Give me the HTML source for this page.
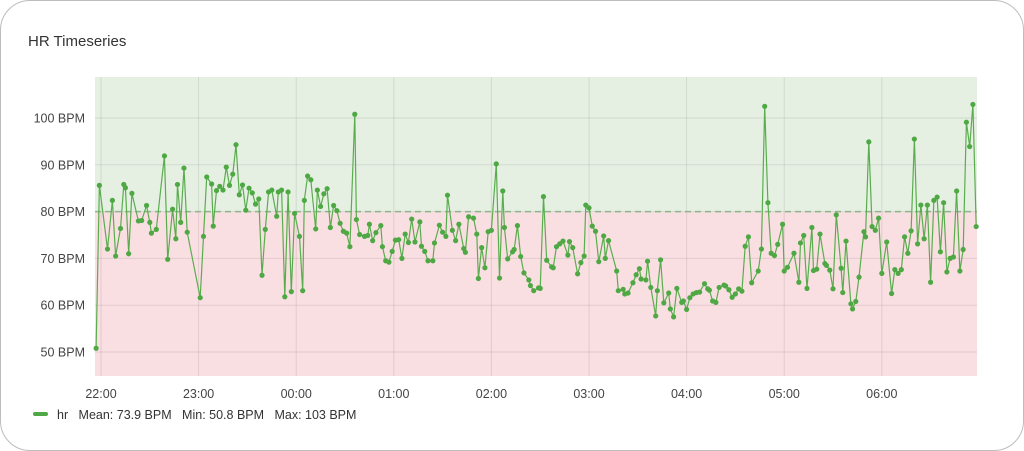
<!DOCTYPE html>
<html><head><meta charset="utf-8">
<style>
html,body{margin:0;padding:0;background:#fff;}
body{width:1024px;height:451px;overflow:hidden;font-family:"Liberation Sans",sans-serif;}
#card{position:absolute;left:0;top:0;width:1022px;height:449px;border:1px solid #bdbdbd;border-radius:30px;box-sizing:content-box;}
#title{position:absolute;left:28px;top:33px;font-size:15px;color:#333;}
svg{position:absolute;left:0;top:0;}
text{font-family:"Liberation Sans",sans-serif;}
</style></head>
<body>
<div id="card"></div>
<div id="title">HR Timeseries</div>
<svg id="chart" width="1024" height="451"></svg>
<script>
// minutes since 22:00
const times=[-3,-1,4,7,9,12,14,15,17,19,23,25,28,30,31,34,39,41,44,46,47,49,51,53,61,63,65,68,69,71,73,75,77,79,81,83,85,87,89,91,
93,95,97,99,101,103,105,108,109,111,113,115,117,119,122,124,125,127,129,132,133,135,137,139,141,143,145,147,149,151,153,156,157,159,162,164,165,167,169,172,173,175,177,179,181,183,185,
187,189,191,193,196,197,199,201,204,205,208,210,212,213,216,218,220,223,224,226,229,231,232,234,236,238,240,243,245,247,248,250,253,254,256,258,260,263,264,266,269,270,272,274,277,278,280,
282,284,287,288,290,293,295,297,298,300,302,304,306,309,310,312,317,318,321,322,324,327,329,331,332,335,336,338,341,342,344,346,349,350,352,354,357,358,360,362,364,366,368,371,373,374,376,
378,380,383,384,386,388,390,392,394,396,398,400,404,406,408,410,412,414,416,419,420,422,426,429,430,432,434,437,438,440,442,445,446,448,450,452,455,456,458,461,462,464,466,469,470,472,474,476,478,480,483,486,488,490,492,494,496,498,500,502,504,506,508,510,512,514,516,518,520,522,524,526,528,530,532,534,536,538];
const hr=[50.8,85.6,72,82.4,70.5,76.4,85.8,85.1,71,83.9,78,78.1,81.3,77.7,75.4,76.2,91.9,69.8,80.5,74.2,85.8,77.7,89.3,75.6,61.6,74.7,87.4,85.9,76.9,84.5,85.4,84.6,89.5,85.6,88,94.3,83.6,85.7,80.3,85,
84,81.6,82.7,66.4,76.2,84.2,84.6,79,84.2,84.6,61.8,84.2,62.9,79.6,74.7,63.1,82.4,87.6,86.8,76.3,84.6,81.1,83.8,84.9,76.6,81.3,80.2,77.5,75.8,75.4,72.5,100.8,78.3,75.1,74.7,74.9,77.3,73.8,75.5,77,72.5,69.5,69.2,71.5,73.9,74,70,
75.2,73.4,78.4,73.5,77.8,72.6,71.5,69.5,69.5,73.3,77.1,75.6,74.7,83.5,76,73.8,77.3,72.1,71.3,78.9,78.6,75.2,65.7,72.3,68,75.7,76,90.2,65.8,84.4,76.6,69.9,71.4,71.9,77,70.4,66.9,65.4,64.2,63.1,63.7,63.6,83.2,69.6,68.2,68,72.5,
73.1,73.7,70.7,73.6,72.3,66.7,69.1,70.5,81.4,80.8,76.9,75.8,69.3,74.8,70,73.8,67.3,63.1,63.4,62.4,62.6,64.8,66.5,67.8,65.6,65.4,69.4,63.8,57.7,63.1,69.7,60.5,62.6,59.2,57.5,63.6,60.6,60.9,59.1,61.6,62.4,62.7,62.8,64.6,63.5,63.2,60.9,
60.6,63.8,64.3,64.1,63.3,61.7,62.4,63.5,63,72.6,74.6,64.8,67.3,72,102.5,81.9,71.1,70.6,73,77.3,67.3,68.1,71.1,64.9,73.3,74.9,63.6,76.6,67.4,67.7,75.2,68.9,68.5,67.5,63.5,79.3,67.9,62.7,73.7,60.3,59.2,60.8,66,75.7,74.6,94.9,76.8,76,78.6,66.8,73.5,62.5,67.6,66.8,67.6,74.6,71.1,75.9,95.5,73.1,81.4,74.2,81.4,64.9,82.4,83.1,71.4,81.9,67.1,70,70.3,84.4,67.3,71.9,99.1,93.9,102.9,76.8];
const yTicks=[50,60,70,80,90,100];
const xTickLabels=["22:00","23:00","00:00","01:00","02:00","03:00","04:00","05:00","06:00"];
const xTickMinutes=[0,60,120,180,240,300,360,420,480];
const threshold=80;

const L=95,R=977,T=77,B=376;
const xs=m=>101+m*1.6267;
const ys=v=>352-(v-50)*4.68;
const svg=document.getElementById('chart');
const NS='http://www.w3.org/2000/svg';
function mk(tag,attrs,parent){const e=document.createElementNS(NS,tag);for(const k in attrs)e.setAttribute(k,attrs[k]);(parent||svg).appendChild(e);return e;}

let e=mk('rect',{x:L,y:T,width:R-L,height:ys(threshold)-T,fill:'#e5f0e3'});


e=mk('rect',{x:L,y:ys(threshold),width:R-L,height:B-ys(threshold),fill:'#f9dfe2'});



yTicks.forEach(v=>{
  const g=mk('line',{x1:L,x2:R,y1:ys(v),y2:ys(v),stroke:'rgba(0,0,0,0.09)','stroke-width':1});
  
  
  const t=mk('text',{x:85,y:ys(v)+4.5,'text-anchor':'end','font-size':12.5,fill:'#444'});
  t.textContent=v+' BPM';
  
  
});
xTickMinutes.forEach((m,i)=>{
  const g=mk('line',{x1:xs(m),x2:xs(m),y1:T,y2:B,stroke:'rgba(0,0,0,0.09)','stroke-width':1});
  
  
  const t=mk('text',{x:xs(m),y:398,'text-anchor':'middle','font-size':12.5,fill:'#444'});
  t.textContent=xTickLabels[i];
  
  
});
e=mk('line',{x1:L,x2:R,y1:ys(threshold),y2:ys(threshold),stroke:'#8fb58a','stroke-width':1.5,'stroke-dasharray':'6,4'});



const pts=times.map((m,i)=>xs(m).toFixed(1)+','+ys(hr[i]).toFixed(1)).join(' ');
e=mk('polyline',{points:pts,fill:'none',stroke:'#5aad4e','stroke-width':1.2});


times.forEach((m,i)=>{
  const c=mk('circle',{cx:xs(m),cy:ys(hr[i]),r:2.6,fill:'#4ea843'});
  
  
});

// legend
e=mk('rect',{x:33,y:412,width:15,height:4,rx:2,fill:'#4ea843'});


e=mk('text',{x:57,y:419,'font-size':12.5,fill:'#333'});
e.textContent='hr   Mean: 73.9 BPM   Min: 50.8 BPM   Max: 103 BPM';
e.setAttribute('xml:space','preserve');
e.style.whiteSpace='pre';


</script>
</body></html>
